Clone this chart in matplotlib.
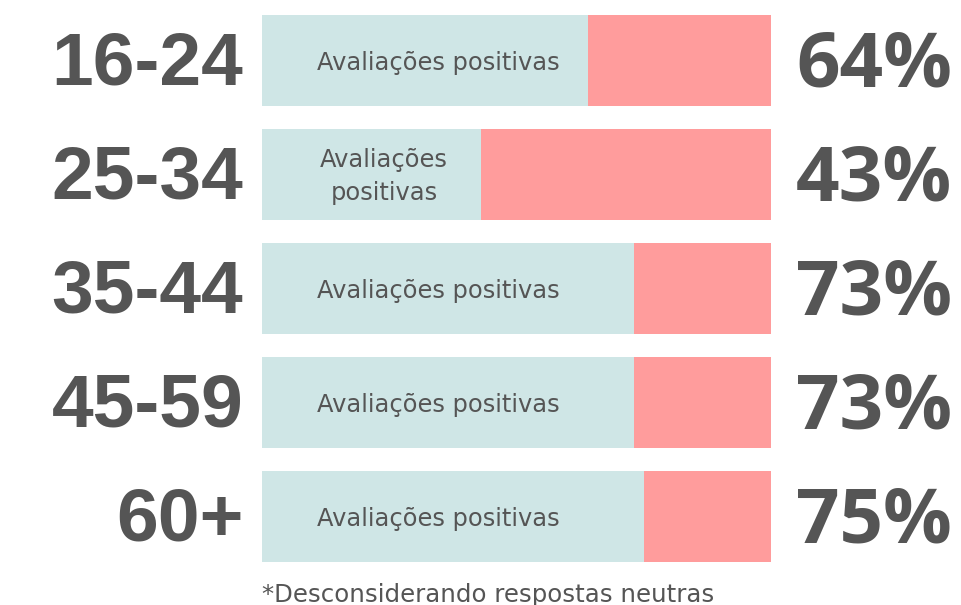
import matplotlib
matplotlib.use("Agg")
import matplotlib.pyplot as plt

# faixas etárias e percentual de avaliações positivas
faixas = ["16-24", "25-34", "35-44", "45-59", "60+"]
positivas = [64, 43, 73, 73, 75]
rotulos_barra = ["Avaliações positivas", "Avaliações\npositivas", "Avaliações positivas",
                 "Avaliações positivas", "Avaliações positivas"]
nota = "*Desconsiderando respostas neutras"

cor_pos = "#cfe6e6"
cor_neg = "#ff9c9c"
cinza = "#555555"

fig = plt.figure(figsize=(9.61, 6.05), dpi=100)
ax = fig.add_axes([262 / 961, 43 / 605, 509 / 961, 547 / 605])

y = list(range(len(faixas)))
frac = [p / 100 for p in positivas]
resto = [1 - f for f in frac]

ax.barh(y, frac, height=0.8, left=0, color=cor_pos)
ax.barh(y, resto, height=0.8, left=frac, color=cor_neg)

ax.set_xlim(0, 1)
ax.set_ylim(len(faixas) - 0.6, -0.4)
ax.axis("off")

for i in y:
    ax.text(-0.037, i + 0.21, faixas[i], ha="right", va="baseline",
            fontsize=54, fontweight="bold", family="Liberation Sans", color=cinza)
    ax.text(1.356, i + 0.23, f"{positivas[i]}%", ha="right", va="baseline",
            fontsize=55, fontweight="bold", family="Open Sans", color=cinza)
    if "\n" in rotulos_barra[i]:
        linhas = rotulos_barra[i].split("\n")
        ax.text(0.240, i - 0.066, linhas[0], ha="center", va="baseline",
                fontsize=17.4, family="DejaVu Sans", color=cinza)
        ax.text(0.240, i + 0.223, linhas[1], ha="center", va="baseline",
                fontsize=17.4, family="DejaVu Sans", color=cinza)
    else:
        ax.text(0.108, i + 0.083, rotulos_barra[i], ha="left", va="baseline",
                fontsize=17.4, family="DejaVu Sans", color=cinza)

fig.text(262 / 961, 3 / 605, nota, ha="left", va="baseline",
         fontsize=17.6, family="DejaVu Sans", color=cinza)

fig.savefig("out.png", dpi=100, facecolor="white")
